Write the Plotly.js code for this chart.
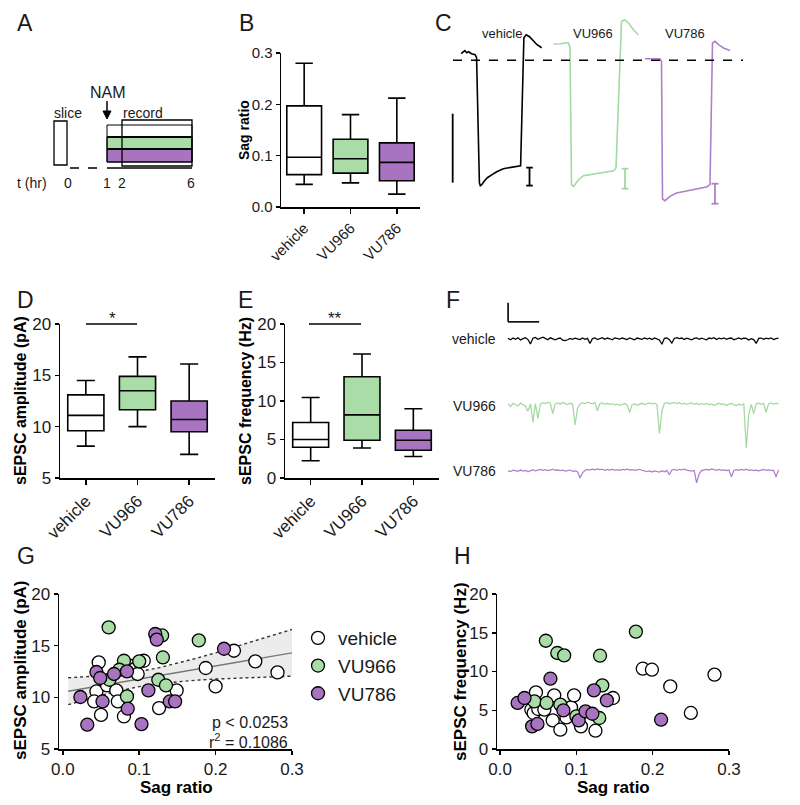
<!DOCTYPE html>
<html><head><meta charset="utf-8">
<script src="https://cdn.plot.ly/plotly-3.0.1.min.js"></script>
<style>html,body{margin:0;padding:0;background:#fff}#chart{width:800px;height:805px}</style>
</head><body><div id="chart"></div>
<script>
// ---------------- data ----------------
const groups = ['vehicle', 'VU966', 'VU786'];

// B: sag ratio box stats
const sagMin = [0.044, 0.047, 0.025];
const sagQ1  = [0.063, 0.066, 0.051];
const sagMed = [0.097, 0.094, 0.087];
const sagQ3  = [0.197, 0.132, 0.125];
const sagMax = [0.280, 0.180, 0.212];

// D: sEPSC amplitude (pA)
const ampMin = [8.1, 10.0, 7.3];
const ampQ1  = [9.6, 11.65, 9.5];
const ampMed = [11.1, 13.5, 10.7];
const ampQ3  = [13.1, 14.9, 12.5];
const ampMax = [14.5, 16.8, 16.1];

// E: sEPSC frequency (Hz)
const frqMin = [2.25, 3.9, 2.8];
const frqQ1  = [4.0, 4.9, 3.6];
const frqMed = [5.0, 8.2, 4.9];
const frqQ3  = [7.2, 13.15, 6.2];
const frqMax = [10.45, 16.1, 9.0];

// G: sag ratio vs amplitude
const gVehX = [0.047,0.044,0.041,0.050,0.058,0.070,0.072,0.080,0.087,0.094,0.098,0.106,0.126,0.149,0.187,0.200,0.224,0.252,0.281];
const gVehY = [13.38,10.57,9.6,8.3,11.15,10.67,9.6,8.15,13.06,12.74,12.26,13.54,8.96,10.67,12.84,11.06,14.51,13.48,12.41];
const g966X = [0.060,0.061,0.080,0.074,0.084,0.100,0.130,0.131,0.125,0.135,0.178];
const g966Y = [16.77,11.7,13.54,12.67,10.09,13.48,15.99,13.86,11.7,11.15,15.51];
const g786X = [0.023,0.032,0.044,0.049,0.052,0.067,0.084,0.085,0.103,0.112,0.121,0.123,0.140,0.147,0.211];
const g786Y = [10.03,7.35,12.45,11.87,9.6,12.26,12.51,8.9,7.41,10.67,16.13,15.58,9.6,9.6,14.7];
// G: regression line and 95% band
const fitX  = [0.007, 0.3];
const fitY  = [10.59, 14.31];
const bandX = [0.007, 0.03, 0.05, 0.075, 0.1, 0.125, 0.15, 0.175, 0.2, 0.25, 0.3];
const bandHi = [11.89, 11.98, 12.09, 12.25, 12.50, 12.85, 13.29, 13.78, 14.31, 15.43, 16.57];
const bandLo = [9.29, 9.78, 10.19, 10.65, 11.04, 11.33, 11.53, 11.66, 11.77, 11.93, 12.05];
const statP = 'p < 0.0253';
const statR = 'r<sup>2</sup> = 0.1086';

// H: sag ratio vs frequency
const hVehX = [0.047,0.041,0.044,0.050,0.058,0.069,0.071,0.079,0.087,0.093,0.097,0.106,0.125,0.148,0.187,0.199,0.223,0.250,0.281];
const hVehY = [7.3,5.07,4.64,5.16,5.07,3.69,6.92,2.49,4.08,5.37,6.92,2.92,2.36,6.58,10.36,10.23,8.08,4.65,9.59];
const h966X = [0.060,0.075,0.084,0.131,0.178,0.134,0.045,0.061,0.079,0.100,0.130];
const h966Y = [13.97,12.39,12.08,12.04,15.14,8.21,6.14,5.94,5.72,4.21,4.0];
const h786X = [0.023,0.032,0.066,0.042,0.049,0.083,0.103,0.112,0.121,0.123,0.140,0.211];
const h786Y = [5.94,6.58,9.07,2.92,3.23,4.98,3.69,4.85,4.55,7.56,6.27,3.78];

// C: voltage responses (time s, membrane potential mV)
const cVehT = [0.14,0.18,0.22,0.26,0.30,0.36,0.44,0.47,0.53,0.55,0.58,0.64,0.70,0.80,0.90,1.04,1.20,1.34,1.41,1.48,1.53,1.60,1.68,1.76,1.86];
const cVehV = [-64.09,-63.80,-63.65,-63.94,-63.80,-64.09,-64.23,-64.67,-82.78,-83.22,-83.07,-82.49,-82.06,-81.62,-81.19,-80.75,-80.61,-80.46,-80.32,-61.77,-61.33,-61.62,-62.20,-62.78,-63.22];
const c966T = [0.03,0.16,0.28,0.33,0.36,0.39,0.43,0.53,0.63,0.76,0.89,1.09,1.23,1.28,1.39,1.45,1.53,1.63,1.73];
const c966V = [-62.68,-62.64,-62.49,-62.54,-63.22,-83.07,-83.32,-82.35,-81.77,-81.62,-81.38,-81.14,-81.04,-80.65,-59.41,-59.16,-59.64,-60.61,-61.33];
const c786T = [0.06,0.26,0.36,0.39,0.41,0.46,0.56,0.69,0.89,1.09,1.29,1.36,1.41,1.46,1.53,1.63,1.76];
const c786V = [-64.81,-64.81,-64.81,-65.25,-85.14,-85.39,-84.77,-84.28,-83.94,-83.70,-83.41,-83.07,-62.54,-62.30,-62.78,-63.26,-63.61];
// sag bars (time s, from mV, to mV)
const sagBarT = [1.60, 1.46, 1.46];
const sagBarV0 = [-80.6, -80.75, -82.93];
const sagBarV1 = [-83.2, -83.65, -85.83];

// F: sEPSC traces (pA), sampled every 8 ms
const fStep = 8;
const fVeh = [0.3,-0.4,0.5,-0.2,0.6,-0.5,0.2,0.7,-0.3,-2.6,
 0.4,0.8,-0.2,0.5,0.9,0.3,-0.4,0.6,0.1,-0.5,
 0.2,0.5,-0.6,-0.9,-0.4,0.3,-0.2,0.4,0.1,-0.3,
 0.5,-0.2,0.3,-2.4,0.2,0.6,-0.3,0.4,0.7,-0.2,
 0.5,0.1,-0.4,0.6,0.3,-0.1,0.5,0.2,-0.3,0.6,
 0.1,-0.4,0.5,0.3,-0.2,0.6,0.0,0.4,-0.3,0.5,
 0.2,-0.5,-2.8,0.4,0.6,-0.4,-2.2,0.3,0.7,0.2,
 0.5,-0.3,0.4,0.1,-0.5,0.3,0.6,-0.2,0.4,0.0,
 -0.4,0.5,0.2,0.7,-0.3,0.4,0.1,0.6,-0.2,0.3,
 0.5,-0.4,0.2,0.6,-0.1,0.4,0.3,-0.5,0.2,-0.3,
 -2.3,0.3,0.5,-0.2,0.4,0.1,0.6,-0.3,0.2,0.4];
const f966 = [0.5,-0.8,0.9,0.3,-0.5,1.0,0.2,-0.6,-3.2,0.6,
 -9.0,0.8,-7.0,0.5,1.2,0.7,1.5,0.9,-4.5,0.6,
 1.1,0.4,1.3,0.8,0.2,1.0,0.5,-10.5,-1.5,0.6,
 1.2,0.8,1.5,1.0,0.6,1.3,-3.0,0.7,1.1,0.4,
 0.9,0.3,0.7,0.1,0.5,-0.2,0.4,0.8,0.0,-4.0,
 0.3,0.6,-0.1,0.5,0.9,0.2,0.7,1.1,0.6,0.9,
 0.3,-15.0,-3.0,0.8,1.3,0.6,1.0,1.4,0.7,1.2,
 0.5,1.0,0.3,0.8,1.1,0.4,0.9,0.2,0.7,0.3,
 0.8,0.1,0.6,-0.2,0.4,0.9,0.2,0.6,-0.1,0.5,
 0.8,0.2,-0.3,0.4,0.0,0.6,-22.6,-5.0,0.3,-4.5,
 0.6,1.0,0.4,0.9,-3.8,0.7,1.1,0.5,0.9,0.6];
const f786 = [0.2,-0.3,0.4,0.1,-0.2,0.5,0.0,0.3,-0.4,0.2,
 0.6,0.1,0.5,0.8,0.3,0.7,0.2,0.5,0.9,0.4,
 0.6,0.2,0.4,-0.1,0.3,0.5,-0.2,0.1,-0.4,-3.7,
 -1.0,0.4,0.8,0.5,1.0,0.6,1.1,0.7,0.9,0.4,
 0.8,0.5,0.9,0.3,0.7,0.4,0.8,0.6,1.0,0.5,
 0.7,0.3,0.6,0.9,0.4,0.2,-0.3,0.1,-0.5,0.0,
 -0.2,-0.6,0.1,-0.4,0.3,-2.0,0.5,0.8,0.4,0.9,
 0.6,1.0,0.5,0.2,-0.1,0.3,-6.3,-1.5,0.2,0.6,
 0.9,0.5,1.1,0.7,0.4,0.8,0.3,0.6,0.2,0.5,
 -3.0,0.3,0.7,0.4,0.8,0.5,0.9,0.3,0.6,0.2,
 0.5,0.1,0.4,0.8,0.3,0.6,0.2,0.4,-3.0,0.5];
const fScaleT = 100, fScaleI = 10;

// A: schematic time labels
const aTimes = ['0', '1', '2', '6'];

// ---------------- styling / layout helpers ----------------
const W = 800, H = 805;
const FONT = 'Liberation Sans, Arial, Helvetica, sans-serif';
const fills = ['#ffffff', '#a9dca6', '#a874c0'];
const traceCols = ['#000000', '#a3d9a0', '#b07fcc'];
const px = p => p / W, py = p => 1 - p / H;
const dx = (a, b) => [a / W, b / W];
const dy = (a, b) => [1 - b / H, 1 - a / H];

const traces = [];

function addBoxes(xa, ya, q1, med, q3, lo, hi, w) {
  groups.forEach((g, i) => traces.push({
    type: 'box', x: [g], q1: [q1[i]], median: [med[i]], q3: [q3[i]],
    lowerfence: [lo[i]], upperfence: [hi[i]], xaxis: xa, yaxis: ya,
    fillcolor: fills[i], line: {color: '#000', width: 1.6}, width: w,
    whiskerwidth: 0.5, boxpoints: false, showlegend: false, hoverinfo: 'skip'
  }));
}
addBoxes('x', 'y', sagQ1, sagMed, sagQ3, sagMin, sagMax, 0.75);
addBoxes('x2', 'y2', ampQ1, ampMed, ampQ3, ampMin, ampMax, 0.7);
addBoxes('x3', 'y3', frqQ1, frqMed, frqQ3, frqMin, frqMax, 0.7);

// G band + fit
traces.push({x: bandX, y: bandLo, xaxis: 'x4', yaxis: 'y4', mode: 'lines',
  line: {color: '#333', width: 1.4, dash: 'dot'}, showlegend: false, hoverinfo: 'skip'});
traces.push({x: bandX, y: bandHi, xaxis: 'x4', yaxis: 'y4', mode: 'lines', fill: 'tonexty',
  fillcolor: 'rgba(200,200,200,0.35)', line: {color: '#333', width: 1.4, dash: 'dot'},
  showlegend: false, hoverinfo: 'skip'});
traces.push({x: fitX, y: fitY, xaxis: 'x4', yaxis: 'y4', mode: 'lines',
  line: {color: '#777', width: 1.3}, showlegend: false, hoverinfo: 'skip'});

function addScatter(xa, ya, xs, ys, i, legend) {
  traces.push({x: xs, y: ys, xaxis: xa, yaxis: ya, mode: 'markers', type: 'scatter',
    name: groups[i], legendgroup: 'g' + i, showlegend: legend,
    marker: {size: 13, color: fills[i], line: {color: '#000', width: 1.3}},
    hoverinfo: 'skip', cliponaxis: false});
}
addScatter('x4', 'y4', gVehX, gVehY, 0, true);
addScatter('x4', 'y4', g966X, g966Y, 1, true);
addScatter('x4', 'y4', g786X, g786Y, 2, true);
addScatter('x5', 'y5', hVehX, hVehY, 0, false);
addScatter('x5', 'y5', h966X, h966Y, 1, false);
addScatter('x5', 'y5', h786X, h786Y, 2, false);

// C traces
[[cVehT, cVehV], [c966T, c966V], [c786T, c786V]].forEach((d, i) => traces.push({
  x: d[0], y: d[1], xaxis: 'x' + (6 + i), yaxis: 'y' + (6 + i), mode: 'lines',
  line: {color: traceCols[i], width: 1.6}, showlegend: false, hoverinfo: 'skip'}));

// F traces
[fVeh, f966, f786].forEach((d, i) => traces.push({
  x: d.map((_, k) => k * fStep), y: d, xaxis: 'x' + (9 + i), yaxis: 'y' + (9 + i), mode: 'lines',
  line: {color: traceCols[i], width: 1.25}, showlegend: false, hoverinfo: 'skip'}));

// ---------------- axes ----------------
const tf = s => ({family: FONT, size: s, color: '#1a1a1a'});
function valAxis(dom, range, anchor, fs, extra) {
  return Object.assign({domain: dom, range: range, anchor: anchor, showline: true, linecolor: '#000', linewidth: 1.5,
    ticks: 'outside', ticklen: 4, tickwidth: 1.5, tickcolor: '#000', tickfont: tf(fs),
    showgrid: false, zeroline: false, fixedrange: true}, extra || {});
}
function catAxis(dom, anchor, fs) {
  return {domain: dom, anchor: anchor, type: 'category', categoryorder: 'array', categoryarray: groups,
    range: [-0.5, 2.5], showline: true, linecolor: '#000', linewidth: 1.5, ticks: 'outside', ticklen: 5,
    tickwidth: 1.5, tickcolor: '#000', tickangle: -45, tickfont: tf(fs), showgrid: false, zeroline: false, fixedrange: true};
}
function hidden(dom, range, anchor) {
  return {domain: dom, range: range, anchor: anchor, visible: false, fixedrange: true, showgrid: false, zeroline: false};
}

const layout = {
  width: W, height: H, margin: {l: 0, r: 0, t: 0, b: 0}, paper_bgcolor: '#fff', plot_bgcolor: 'rgba(0,0,0,0)',
  font: {family: FONT, color: '#000'}, boxmode: 'overlay',
  showlegend: true,
  legend: {x: px(298), y: py(619), xanchor: 'left', yanchor: 'top', bgcolor: 'rgba(0,0,0,0)',
    font: {family: FONT, size: 19, color: '#1a1a1a'}, tracegroupgap: 0, itemwidth: 30},
  xaxis: catAxis(dx(281, 420), 'y', 15),
  yaxis: valAxis(dy(53, 207), [0, 0.3], 'x', 15, {tickvals: [0, 0.1, 0.2, 0.3], tickformat: '.1f'}),
  xaxis2: catAxis(dx(60, 215), 'y2', 17),
  yaxis2: valAxis(dy(324, 478), [5, 20], 'x2', 17, {tickvals: [5, 10, 15, 20]}),
  xaxis3: catAxis(dx(285, 439), 'y3', 17),
  yaxis3: valAxis(dy(324, 478), [0, 20], 'x3', 17, {tickvals: [0, 5, 10, 15, 20]}),
  xaxis4: valAxis(dx(59, 292), [-0.005, 0.3], 'y4', 17, {tickvals: [0, 0.1, 0.2, 0.3], tickformat: '.1f'}),
  yaxis4: valAxis(dy(594, 749), [5, 20], 'x4', 17, {tickvals: [5, 10, 15, 20]}),
  xaxis5: valAxis(dx(497, 729), [-0.004, 0.3], 'y5', 17, {tickvals: [0, 0.1, 0.2, 0.3], tickformat: '.1f'}),
  yaxis5: valAxis(dy(594, 749), [0, 20], 'x5', 17, {tickvals: [0, 5, 10, 15, 20]}),
  xaxis6: hidden(dx(448, 552), [-0.14, 2.08], 'y6'),
  yaxis6: hidden(dy(10, 210), [-86.74, -57.75], 'x6'),
  xaxis7: hidden(dx(552, 642), [0, 1.8], 'y7'),
  yaxis7: hidden(dy(10, 210), [-86.74, -57.75], 'x7'),
  xaxis8: hidden(dx(642, 745), [0, 2.06], 'y8'),
  yaxis8: hidden(dy(10, 210), [-86.74, -57.75], 'x8'),
  xaxis9: hidden(dx(505, 781), [-10, 880], 'y9'),
  yaxis9: hidden(dy(300, 354), [-7.9, 20.5], 'x9'),
  xaxis10: hidden(dx(505, 781), [-10, 880], 'y10'),
  yaxis10: hidden(dy(390, 455), [-26.3, 7.9], 'x10'),
  xaxis11: hidden(dx(505, 781), [-10, 880], 'y11'),
  yaxis11: hidden(dy(456, 486), [-7.9, 7.9], 'x11'),
  shapes: [], annotations: []
};

const S = layout.shapes, A = layout.annotations;
function pline(x0, y0, x1, y1, w, dash, col) {
  S.push({type: 'line', xref: 'paper', yref: 'paper', x0: px(x0), y0: py(y0), x1: px(x1), y1: py(y1),
    line: {color: col || '#000', width: w || 1.5, dash: dash || 'solid'}});
}
function prect(x0, y0, x1, y1, fill, w) {
  S.push({type: 'rect', xref: 'paper', yref: 'paper', x0: px(x0), y0: py(y1), x1: px(x1), y1: py(y0),
    fillcolor: fill || 'rgba(0,0,0,0)', line: {color: '#000', width: w || 1.2}, layer: 'above'});
}
function ptext(x, y, t, size, anchor, extra) {
  A.push(Object.assign({xref: 'paper', yref: 'paper', x: px(x), y: py(y), text: t, showarrow: false,
    xanchor: anchor || 'center', yanchor: 'middle', font: {family: FONT, size: size || 14, color: '#1a1a1a'}}, extra || {}));
}
function vtitle(x, y, t, size) { ptext(x, y, '<b>' + t + '</b>', size, 'center', {textangle: -90, font: {family: FONT, size: size, color: '#000'}}); }
function htitle(x, y, t, size) { ptext(x, y, '<b>' + t + '</b>', size, 'center', {font: {family: FONT, size: size, color: '#000'}}); }

// axis titles
vtitle(244, 130, 'Sag ratio', 14);
vtitle(20, 401, 'sEPSC amplitude (pA)', 16);
vtitle(245, 401, 'sEPSC frequency (Hz)', 16);
vtitle(20, 671, 'sEPSC amplitude (pA)', 17);
vtitle(460, 671, 'sEPSC frequency (Hz)', 17);
htitle(176, 787, 'Sag ratio', 17);
htitle(613, 787, 'Sag ratio', 17);

// panel letters
[['A', 25, 23], ['B', 246, 23], ['C', 443, 23], ['D', 25, 300], ['E', 245, 300], ['F', 453, 300], ['G', 26, 556], ['H', 462, 556]]
  .forEach(l => ptext(l[1], l[2], l[0], 23));

// ---- Panel A schematic ----
prect(107, 137, 192, 149, fills[1], 1);
prect(107, 149, 192, 162, fills[2], 1);
prect(107, 125, 192, 162, null, 1);
prect(54, 121, 67, 165, null, 1.3);
prect(122, 120, 192, 166, null, 1.3);
pline(107, 137, 192, 137, 2.2);
pline(107, 149, 192, 149, 2.2);
pline(70, 168, 106, 168, 1.3, 'dash');
pline(107, 168, 192, 168, 1.3);
ptext(68, 113, 'slice', 14);
ptext(143, 113, 'record', 14);
ptext(108, 93, 'NAM', 16);
pline(107, 101, 107, 112, 1.5);
S.push({type: 'path', xref: 'paper', yref: 'paper',
  path: 'M ' + px(103) + ' ' + py(111) + ' L ' + px(111) + ' ' + py(111) + ' L ' + px(107) + ' ' + py(119) + ' Z',
  fillcolor: '#000', line: {color: '#000', width: 1}});
ptext(32, 183, 't (hr)', 14);
[68, 107, 122, 191].forEach((x, i) => ptext(x, 183, aTimes[i], 14));

// ---- D/E significance ----
pline(86, 324, 137, 324, 1.5);
ptext(112, 318, '*', 17);
pline(309, 324, 361, 324, 1.5);
ptext(335, 318, '**', 17);

// ---- Panel C ----
pline(453, 60.3, 743, 60.3, 1.6, 'dash');
S.push({type: 'line', xref: 'x6', yref: 'y6', x0: -0.04, x1: -0.04, y0: -72.78, y1: -82.78, line: {color: '#000', width: 1.8}});
sagBarT.forEach((t, i) => {
  const xr = 'x' + (6 + i), yr = 'y' + (6 + i), c = traceCols[i];
  S.push({type: 'line', xref: xr, yref: yr, x0: t, x1: t, y0: sagBarV0[i], y1: sagBarV1[i], line: {color: c, width: 1.8}});
  S.push({type: 'line', xref: xr, yref: yr, x0: t - 0.07, x1: t + 0.07, y0: sagBarV0[i], y1: sagBarV0[i], line: {color: c, width: 1.8}});
  S.push({type: 'line', xref: xr, yref: yr, x0: t - 0.07, x1: t + 0.07, y0: sagBarV1[i], y1: sagBarV1[i], line: {color: c, width: 1.8}});
});
ptext(502, 33, 'vehicle', 13);
ptext(593, 33, 'VU966', 13);
ptext(685, 33, 'VU786', 13);

// ---- Panel F ----
S.push({type: 'line', xref: 'x9', yref: 'y9', x0: 0, x1: 0, y0: 9, y1: 9 + fScaleI, line: {color: '#000', width: 1.6}});
S.push({type: 'line', xref: 'x9', yref: 'y9', x0: 0, x1: fScaleT, y0: 9, y1: 9, line: {color: '#000', width: 1.6}});
ptext(498, 339, 'vehicle', 14, 'right');
ptext(498, 406, 'VU966', 14, 'right');
ptext(498, 471, 'VU786', 14, 'right');

// ---- Panel G stats ----
ptext(290, 722, statP, 16, 'right');
ptext(290, 741, statR, 16, 'right');

Plotly.newPlot('chart', traces, layout, {staticPlot: true});
</script></body></html>
